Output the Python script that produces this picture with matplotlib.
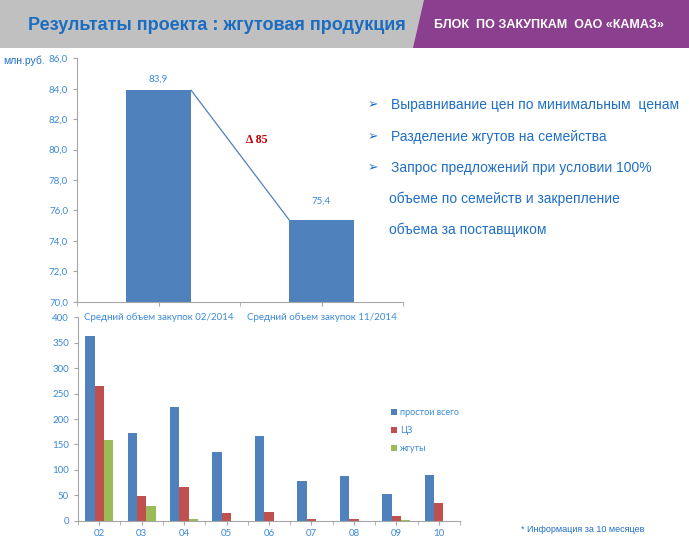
import matplotlib
matplotlib.use("Agg")
import matplotlib.pyplot as plt
from matplotlib.patches import Polygon, Rectangle
import numpy as np

# ---------------- data ----------------
top_categories = ["Средний объем закупок 02/2014", "Средний объем закупок 11/2014"]
top_values = [83.9, 75.4]
top_labels = ["83,9", "75,4"]
top_yticks = [70, 72, 74, 76, 78, 80, 82, 84, 86]
delta_text = "Δ 85"

months = ["02", "03", "04", "05", "06", "07", "08", "09", "10"]
downtime_total = [363, 173, 224, 136, 166, 79, 88, 52, 90]
downtime_cz = [265, 48, 66, 16, 18, 2.5, 2.5, 9, 35]
downtime_harness = [159, 29, 4, 0, 0, 0, 0, 2, 0]
series_names = ["простои всего", "ЦЗ", "жгуты"]
bottom_yticks = [0, 50, 100, 150, 200, 250, 300, 350, 400]

title = "Результаты проекта : жгутовая продукция"
banner = "БЛОК  ПО ЗАКУПКАМ  ОАО «КАМАЗ»"
unit = "млн.руб."
bullets = ["Выравнивание цен по минимальным  ценам",
           "Разделение жгутов на семейства",
           "Запрос предложений при условии 100%"]
continuation = ["объеме по семейств и закрепление",
                "объема за поставщиком"]
footnote = "* Информация за 10 месяцев"

# ---------------- layout ----------------
W, H = 689, 539
fig = plt.figure(figsize=(W / 100, H / 100), dpi=100)
fig.patch.set_facecolor("white")

def fx(x):
    return x / W

def fy(y):
    return 1 - y / H

def ax_rect(l, t, r, b):
    return [fx(l), fy(b), fx(r) - fx(l), fy(t) - fy(b)]

BLUE = "#4f81bd"
RED = "#c0504d"
GREEN = "#9bbb59"
TICKC = "#3b8ad8"
AXC = "#a6a6a6"
TXT = "#1f6fc5"

# header band
bg = fig.add_axes([0, 0, 1, 1], zorder=-5)
bg.set_xlim(0, W)
bg.set_ylim(H, 0)
bg.axis("off")
bg.add_patch(Rectangle((0, 0), W, 48, color="#c0c0c0", lw=0))
bg.add_patch(Polygon([(424, 0), (W, 0), (W, 48), (413, 48)], closed=True,
                     color="#8b3f8f", lw=0))
bg.text(28, 25, title, fontsize=13, fontweight="bold", color="#1a6dc0",
        family="Liberation Sans", va="center", ha="left")
bg.text(434, 25, banner, fontsize=9, fontweight="bold", color="white",
        family="Liberation Sans", va="center", ha="left")
bg.text(3, 61, unit, fontsize=7.5, color=TXT, family="Liberation Sans",
        va="center", ha="left")

# right text
for i, s in enumerate(bullets):
    y = 105 + i * 31.5
    bg.text(368, y, "➢", fontsize=9, color=TXT, family="DejaVu Sans",
            va="center", ha="left")
    bg.text(391, y, s, fontsize=10, color=TXT, family="Liberation Sans",
            va="center", ha="left")
for i, s in enumerate(continuation):
    y = 199 + i * 31
    bg.text(389, y, s, fontsize=10, color=TXT, family="Liberation Sans",
            va="center", ha="left")
bg.text(521, 529, footnote, fontsize=6.5, color=TXT, family="Liberation Sans",
        va="center", ha="left")

def style_axes(ax):
    for sp in ["top", "right"]:
        ax.spines[sp].set_visible(False)
    for sp in ["left", "bottom"]:
        ax.spines[sp].set_color(AXC)
        ax.spines[sp].set_linewidth(0.8)
    ax.tick_params(colors=AXC, labelcolor=TICKC, length=3, width=0.8,
                   labelsize=7)
    for lab in ax.get_xticklabels() + ax.get_yticklabels():
        lab.set_family("Lato")
    ax.set_facecolor("none")

# ---------------- top chart ----------------
ax1 = fig.add_axes(ax_rect(77, 58.3, 403, 301.7))
x1 = np.arange(len(top_categories))
bw1 = 0.4
ax1.bar(x1, top_values, width=bw1, color=BLUE, zorder=2)
ax1.set_ylim(70, 86)
ax1.set_xlim(-0.5, len(top_categories) - 0.5)
ax1.set_yticks(top_yticks)
ax1.set_yticklabels([f"{v:.1f}".replace(".", ",") for v in top_yticks])
ax1.set_xticks(x1)
ax1.set_xticklabels(top_categories)
ax1.set_xticks(np.arange(len(top_categories) + 1) - 0.5, minor=True)
ax1.tick_params(axis="x", which="major", length=0, pad=5)
ax1.tick_params(axis="x", which="minor", length=3, color=AXC)
style_axes(ax1)
label_offsets_pt = [8.2, 13.2]
for xi, v, lab, off in zip(x1, top_values, top_labels, label_offsets_pt):
    ax1.annotate(lab, (xi, v), xytext=(0, off), textcoords="offset points",
                 ha="center", va="center", fontsize=7, color=TICKC, family="Lato")
ax1.plot([x1[0] + bw1 / 2, x1[1] - bw1 / 2], [top_values[0], top_values[1]],
         color=BLUE, lw=0.9, zorder=3)
ax1.text(0.6, 80.6, delta_text, color="#c00000", fontsize=8.5, fontweight="bold",
         family="Liberation Serif", ha="center", va="center")

# ---------------- bottom chart ----------------
ax2 = fig.add_axes(ax_rect(78, 317.3, 460, 520.7))
x2 = np.arange(len(months))
bw = 1 / 4.5
ax2.bar(x2 - bw, downtime_total, width=bw, color=BLUE, label=series_names[0], zorder=2)
ax2.bar(x2, downtime_cz, width=bw, color=RED, label=series_names[1], zorder=2)
ax2.bar(x2 + bw, downtime_harness, width=bw, color=GREEN, label=series_names[2], zorder=2)
ax2.set_ylim(0, 400)
ax2.set_xlim(-0.5, len(months) - 0.5)
ax2.set_yticks(bottom_yticks)
ax2.set_xticks(x2)
ax2.set_xticklabels(months)
ax2.set_xticks(np.arange(len(months) + 1) - 0.5, minor=True)
ax2.tick_params(axis="x", which="major", length=0, pad=3)
ax2.tick_params(axis="x", which="minor", length=3, color=AXC)
style_axes(ax2)
leg = fig.legend(loc="upper left", bbox_to_anchor=(fx(383), fy(400)),
                 bbox_transform=fig.transFigure, frameon=False,
                 handlelength=0.7, handleheight=0.7, handletextpad=0.3,
                 labelspacing=1.0, prop={"family": "Lato", "size": 6.5})
for t in leg.get_texts():
    t.set_color(TICKC)

fig.savefig("out.png", dpi=100, facecolor="white")
